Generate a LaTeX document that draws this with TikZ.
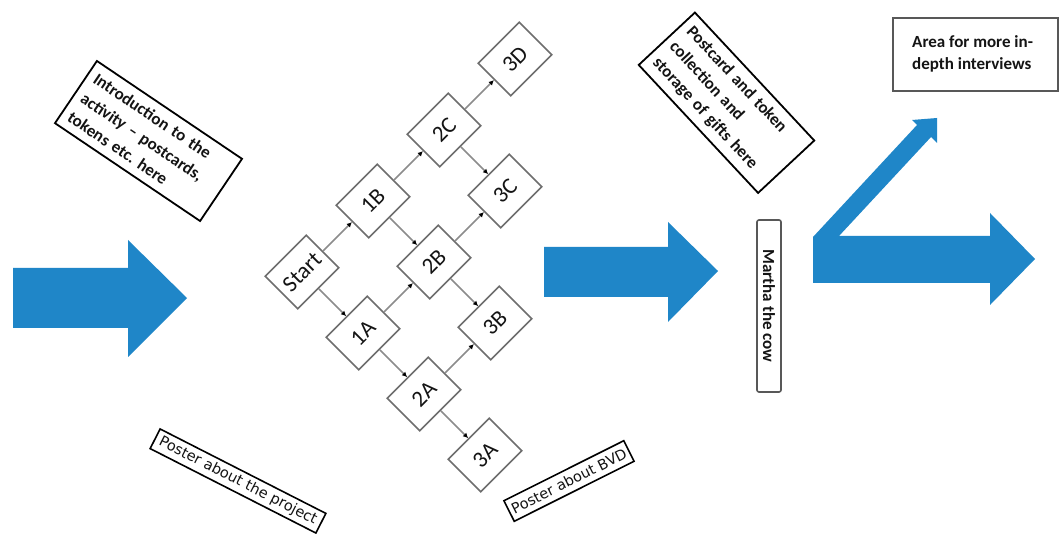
\documentclass[tikz,border=0pt]{standalone}
\usepackage{fontspec}
\setmainfont{Carlito}
\newfontfamily\dvfont{DejaVu Sans}
\usetikzlibrary{arrows.meta}
\definecolor{bigblue}{RGB}{31,134,200}
\definecolor{boxgray}{RGB}{110,110,110}
\definecolor{linkgray}{RGB}{140,140,140}
\definecolor{txt}{RGB}{20,20,20}
\frenchspacing
\tikzset{
  gbox/.style={draw=boxgray, line width=1.7pt, minimum width=58pt, minimum height=46pt,
    rotate=45, inner sep=0pt, text=txt, font=\fontsize{23}{26}\selectfont},
  link/.style={draw=linkgray, line width=1.5pt, -{Latex[length=5pt,width=5pt,fill=black,color=black]}},
  bbox/.style={draw=black, line width=1.8pt, inner sep=8pt, align=left, text=txt,
    font=\bfseries\fontsize{17}{23}\selectfont},
  pbox/.style={draw=black, line width=1.6pt, inner sep=0pt, text=txt,
    font=\dvfont\fontsize{14.5}{16}\selectfont},
  bluearrow/.style={fill=bigblue, draw=none}
}
\begin{document}
\begin{tikzpicture}[x=1pt,y=-1pt]
\useasboundingbox (0,0) rectangle (1060,534);
\fill[white] (0,0) rectangle (1060,534);

% big blue arrows
\fill[bluearrow] (13,268) -- (128,268) -- (128,240) -- (187,298) -- (128,357) -- (128,328) -- (13,328) -- cycle;
\fill[bluearrow] (544,247) -- (668,247) -- (668,222) -- (718,271) -- (668,322) -- (668,297) -- (544,297) -- cycle;
\fill[bluearrow] (813,283) -- (813,237) -- (917,125) -- (912,120) -- (937,118) -- (937,143) -- (931,137)
  -- (839,236) -- (990,236) -- (990,213) -- (1035,259) -- (990,305) -- (990,283) -- cycle;

% grid
\node[gbox] (start) at (302,272) {Start};
\node[gbox] (b1) at (373,201) {1B};
\node[gbox] (a1) at (363,333) {1A};
\node[gbox] (c2) at (444,130) {2C};
\node[gbox] (b2) at (434,262) {2B};
\node[gbox] (a2) at (424,394) {2A};
\node[gbox] (d3) at (515,59) {3D};
\node[gbox] (c3) at (505,191) {3C};
\node[gbox] (b3) at (495,323) {3B};
\node[gbox] (a3) at (485,455) {3A};

\draw[link] (start.east) -- (b1.west);
\draw[link] (start.south) -- (a1.north);
\draw[link] (b1.east) -- (c2.west);
\draw[link] (b1.south) -- (b2.north);
\draw[link] (a1.east) -- (b2.west);
\draw[link] (a1.south) -- (a2.north);
\draw[link] (c2.east) -- (d3.west);
\draw[link] (c2.south) -- (c3.north);
\draw[link] (b2.east) -- (c3.west);
\draw[link] (b2.south) -- (b3.north);
\draw[link] (a2.east) -- (b3.west);
\draw[link] (a2.south) -- (a3.north);

% text boxes
\node[bbox, rotate=-34, minimum width=175pt, minimum height=75pt, text width=159pt] (intro) at (148.5,141)
  {Introduction to the\\activity -- postcards,\\tokens etc. here};
\node[bbox, rotate=-47, minimum width=175pt, minimum height=73pt, text width=159pt] (post) at (726.5,102.75)
  {Postcard and token\\collection and\\storage of gifts here};
\node[draw=boxgray!80!black, line width=1.6pt, rounded corners=2pt, minimum width=172pt, minimum height=24pt,
  inner sep=0pt, rotate=-90, text=txt, font=\bfseries\fontsize{17}{20}\selectfont] (martha) at (769,306) {Martha the cow};
\node[draw=boxgray!80!black, line width=1.8pt, minimum width=165pt, minimum height=73pt, inner sep=0pt] (area) at (975.5,54.5) {};
\node[anchor=north west, inner sep=0pt, align=left, text=txt, font=\bfseries\fontsize{17}{22}\selectfont] (areatxt) at (912,35)
  {Area for more in-\\depth interviews};
\node[pbox, rotate=-27, minimum width=186pt, minimum height=22pt] (pproj) at (238,481) {Poster about the project};
\node[pbox, rotate=26.6, minimum width=134pt, minimum height=23pt] (pbvd) at (569,481) {Poster about BVD};
\end{tikzpicture}
\end{document}
